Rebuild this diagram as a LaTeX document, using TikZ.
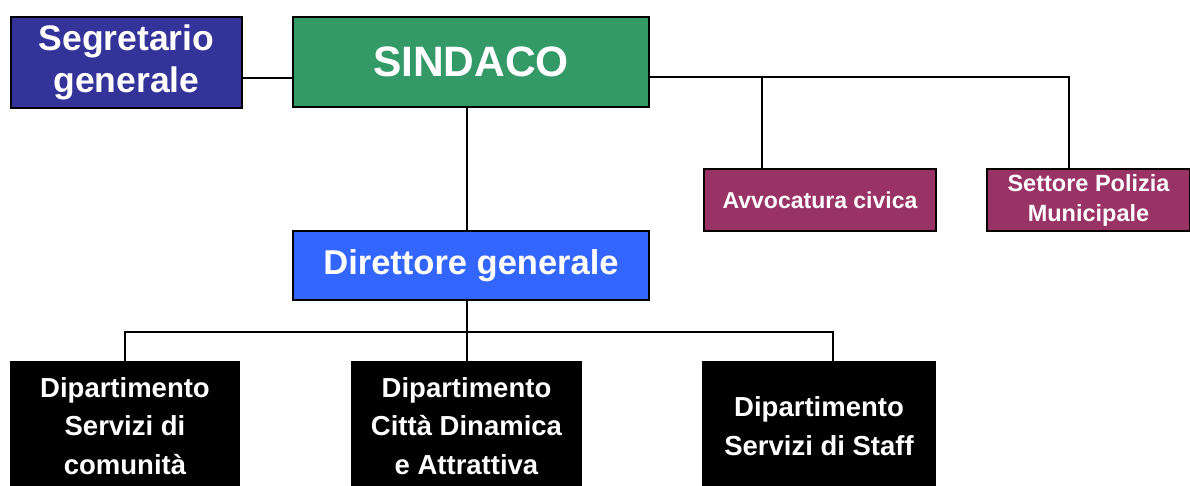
\documentclass[tikz,border=0pt]{standalone}
\usepackage{fontspec}
\setmainfont{Liberation Sans}
\definecolor{segblue}{HTML}{333399}
\definecolor{sindgreen}{HTML}{339966}
\definecolor{dirblue}{HTML}{3366FF}
\definecolor{plum}{HTML}{993366}
\tikzset{
  box/.style={draw=black, line width=2.5pt, text=white, align=center, inner sep=0pt,
    font=\bfseries},
  dept/.style={box, fill=black, minimum height=128pt,
    font=\fontsize{27.5}{38.5}\selectfont\bfseries},
  conn/.style={line width=2pt, draw=black},
}
\begin{document}
\begin{tikzpicture}[x=1pt,y=-1pt]
\useasboundingbox (0,0) rectangle (1190,486);
\node[box, fill=segblue, minimum width=231pt, minimum height=91pt,
  font=\fontsize{35.5}{42}\selectfont\bfseries] (seg) at (126.5,62.5) {Segretario\\generale};
\node[box, fill=sindgreen, minimum width=356pt, minimum height=90pt,
  font=\fontsize{42.5}{50}\selectfont\bfseries] (sin) at (471,62) {SINDACO};
\node[box, fill=plum, minimum width=232pt, minimum height=62pt,
  font=\fontsize{23}{30}\selectfont\bfseries] (avv) at (820,200) {Avvocatura civica};
\node[box, fill=plum, minimum width=203pt, minimum height=62pt,
  font=\fontsize{23.5}{30}\selectfont\bfseries] (set) at (1088.5,200) {Settore Polizia\\Municipale};
\node[box, fill=dirblue, minimum width=356pt, minimum height=69pt,
  font=\fontsize{34.5}{40}\selectfont\bfseries] (dir) at (471,265.5) {Direttore generale};
\node[dept, minimum width=228pt] (d1) at (125,426) {Dipartimento\\Servizi di\\comunità};
\node[dept, minimum width=229pt] (d2) at (466.5,426) {Dipartimento\\Città Dinamica\\e Attrattiva};
\node[dept, minimum width=232pt] (d3) at (819,426) {Dipartimento\\Servizi di Staff};
% connectors
\coordinate (topbus) at (1069,77);
\coordinate (avvdrop) at (762,77);
\draw[conn] (seg.east |- 0,78) -- (sin.west |- 0,78);
\draw[conn] (sin.east |- topbus) -- (topbus) -- (topbus |- set.north);
\draw[conn] (avvdrop) -- (avvdrop |- avv.north);
\draw[conn] (sin.south -| 467,0) -- (dir.north -| 467,0);
\coordinate (bus) at (467,332);
\coordinate (bus3) at (833,332);
\draw[conn] (dir.south -| bus) -- (d2.north -| bus);
\draw[conn] (d1.north) |- (bus3) -- (bus3 |- d3.north);
\end{tikzpicture}
\end{document}
